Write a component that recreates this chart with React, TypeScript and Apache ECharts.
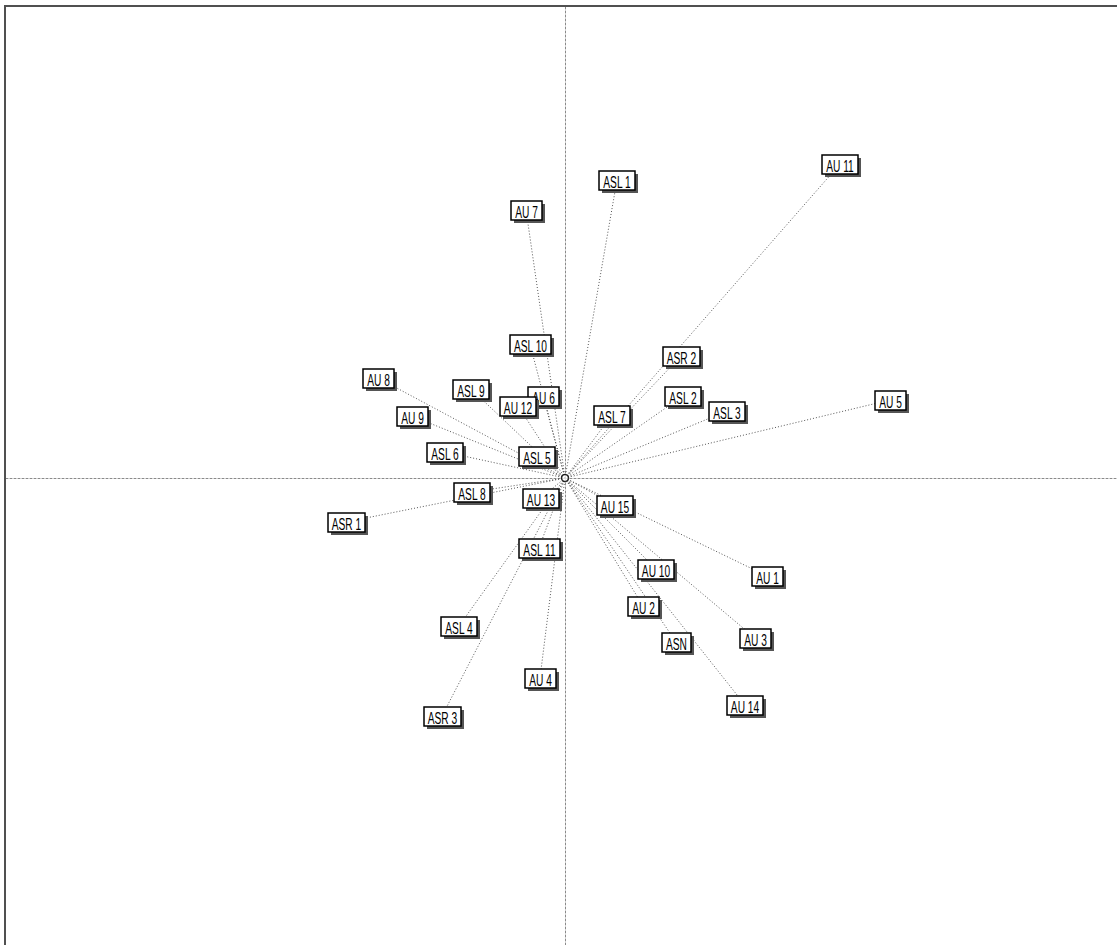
import React, { useEffect, useRef } from "react";
import * as echarts from "echarts";

const names = [
  "AU 11", "ASL 1", "AU 7", "ASL 10", "ASR 2", "AU 8", "ASL 9", "AU 6", "AU 12", "ASL 2",
  "AU 5", "AU 9", "ASL 7", "ASL 3", "ASL 6", "ASL 5", "ASL 8", "AU 13", "AU 15", "ASR 1",
  "ASL 11", "AU 10", "AU 1", "AU 2", "ASL 4", "AU 3", "ASN", "AU 4", "AU 14", "ASR 3",
];
const xValues = [
  2.75, 0.52, -0.39, -0.35, 1.16, -1.87, -0.94, -0.22, -0.47, 1.18,
  3.25, -1.53, 0.47, 1.62, -1.2, -0.28, -0.93, -0.24, 0.5, -2.19,
  -0.26, 0.91, 2.02, 0.78, -1.06, 1.9, 1.11, -0.25, 1.8, -1.23,
];
const yValues = [
  3.14, 2.98, 2.68, 1.34, 1.22, 1.0, 0.89, 0.82, 0.72, 0.82,
  0.78, 0.62, 0.63, 0.67, 0.26, 0.22, -0.14, -0.2, -0.27, -0.44,
  -0.7, -0.91, -0.98, -1.28, -1.48, -1.6, -1.64, -2.0, -2.27, -2.38,
];
const xRange = [-5.59, 5.52];
const yRange = [-4.67, 4.72];

const FONT_SIZE = 17;
const FONT_FAMILY = "Liberation Sans";
const SCALE_X = 0.6;

let measureCtx: CanvasRenderingContext2D | null = null;
function measure(t: string): number {
  if (!measureCtx) {
    measureCtx = document.createElement("canvas").getContext("2d");
  }
  measureCtx!.font = `${FONT_SIZE}px "${FONT_FAMILY}"`;
  return measureCtx!.measureText(t).width;
}

export default function App() {
  const ref = useRef<HTMLDivElement>(null);
  useEffect(() => {
    document.body.style.margin = "0";
    const chart = echarts.init(ref.current!, null, { renderer: "svg" });
    const points = names.map((n, i) => ({ name: n, value: [xValues[i], yValues[i]] }));
    const rays = names.map((n, i) => ({ coords: [[0, 0], [xValues[i], yValues[i]]] }));
    chart.setOption({
      animation: false,
      backgroundColor: "#fff",
      grid: { left: 6, top: 6, right: 0, bottom: 0 },
      xAxis: {
        type: "value", min: xRange[0], max: xRange[1],
        axisLabel: { show: false }, axisTick: { show: false }, splitLine: { show: false },
        axisLine: { show: true, onZero: true, lineStyle: { color: "#8a8a8a", width: 1, type: [2, 2] } },
      },
      yAxis: {
        type: "value", min: yRange[0], max: yRange[1],
        axisLabel: { show: false }, axisTick: { show: false }, splitLine: { show: false },
        axisLine: { show: true, onZero: true, lineStyle: { color: "#8a8a8a", width: 1, type: [2, 2] } },
      },
      graphic: [
        { type: "line", shape: { x1: 4, y1: 6, x2: 1117, y2: 6 }, style: { stroke: "#505050", lineWidth: 2 }, z: 100 },
        { type: "line", shape: { x1: 5, y1: 5, x2: 5, y2: 945 }, style: { stroke: "#505050", lineWidth: 2 }, z: 100 },
      ],
      series: [
        {
          type: "lines",
          coordinateSystem: "cartesian2d",
          polyline: false,
          z: 2,
          silent: true,
          lineStyle: { color: "#444", width: 1, type: [1, 2], opacity: 0.9 },
          data: rays,
        },
        {
          type: "custom",
          z: 5,
          silent: true,
          data: points,
          renderItem: (params: any, api: any) => {
            const p = api.coord([api.value(0), api.value(1)]);
            const name = names[params.dataIndex];
            const tw = measure(name) * SCALE_X;
            const w = Math.round(tw + 8);
            const h = 19;
            const x0 = Math.round(p[0] - w / 2);
            const y0 = Math.round(p[1] - h / 2);
            return {
              type: "group",
              children: [
                { type: "rect", shape: { x: x0 + 3, y: y0 + 3, width: w, height: h }, style: { fill: "#555" } },
                { type: "rect", shape: { x: x0, y: y0, width: w, height: h }, style: { fill: "#fff", stroke: "#000", lineWidth: 1.5 } },
                {
                  type: "text",
                  x: x0 + w / 2,
                  y: y0 + h / 2 + 1,
                  scaleX: SCALE_X,
                  style: {
                    text: name,
                    fill: "#000",
                    fontSize: FONT_SIZE,
                    fontFamily: FONT_FAMILY,
                    align: "center",
                    verticalAlign: "middle",
                  },
                },
              ],
            };
          },
        },
        {
          type: "scatter",
          z: 6,
          symbol: "circle",
          symbolSize: 7,
          itemStyle: { color: "#fff", borderColor: "#000", borderWidth: 1.5 },
          data: [[0, 0]],
        },
      ],
    });
    return () => chart.dispose();
  }, []);
  return <div ref={ref} style={{ position: "absolute", left: 0, top: 0, width: 1117, height: 945 }} />;
}
